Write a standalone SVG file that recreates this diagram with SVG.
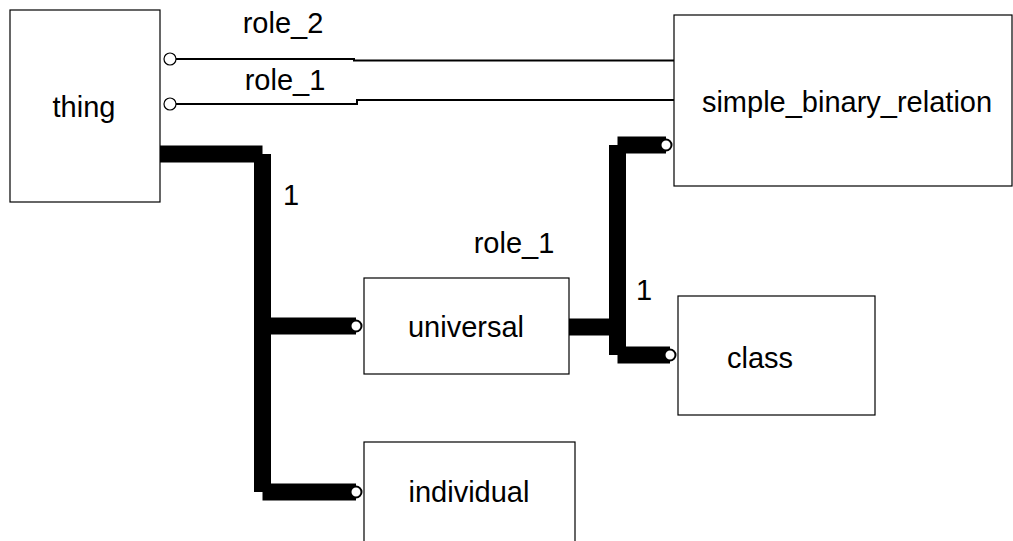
<svg xmlns="http://www.w3.org/2000/svg" width="1013" height="541" viewBox="0 0 1013 541">
  <style>
    .box { fill: #ffffff; stroke: #000000; stroke-width: 1.2; }
    .label { font-family: "Liberation Sans", Arial, sans-serif; font-size: 29px; fill: #000000; text-anchor: middle; }
    .thin { fill: none; stroke: #000000; stroke-width: 2; }
    .thick { fill: none; stroke: #000000; stroke-width: 17; stroke-linecap: butt; }
    .port { fill: #ffffff; stroke: #000000; stroke-width: 1.2; }
    .end { fill: #ffffff; stroke: #000000; stroke-width: 2; }
  </style>

  <!-- connectors -->
  <g id="connectors">
    <!-- role_2: thing to simple_binary_relation -->
    <path class="thin" d="M176,59 H354 V60.5 H674"/>
    <circle class="port" cx="170" cy="59" r="6"/>
    <text class="label" x="283" y="33">role_2</text>

    <!-- role_1: thing to simple_binary_relation -->
    <path class="thin" d="M176,104 H357 V100 H674"/>
    <circle class="port" cx="170" cy="104" r="6"/>
    <text class="label" x="285" y="90">role_1</text>

    <!-- thing specialisation tree -->
    <line class="thick" x1="160" y1="154" x2="262.5" y2="154"/>
    <line class="thick" x1="262.5" y1="154" x2="262.5" y2="492"/>
    <line class="thick" x1="262.5" y1="326" x2="356" y2="326"/>
    <line class="thick" x1="262.5" y1="492" x2="356" y2="492"/>
    <circle class="end" cx="356" cy="326" r="5.5"/>
    <circle class="end" cx="356" cy="492" r="5.5"/>
    <text class="label" x="291" y="205">1</text>

    <!-- universal role_1 tree -->
    <line class="thick" x1="569" y1="327" x2="617.5" y2="327"/>
    <line class="thick" x1="617.5" y1="145" x2="617.5" y2="355"/>
    <line class="thick" x1="617.5" y1="145" x2="666" y2="145"/>
    <line class="thick" x1="617.5" y1="355" x2="670" y2="355"/>
    <circle class="end" cx="666" cy="145" r="5.5"/>
    <circle class="end" cx="670" cy="355" r="5.5"/>
    <text class="label" x="514" y="253">role_1</text>
    <text class="label" x="644" y="300">1</text>
  </g>

  <!-- nodes -->
  <g id="thing">
    <rect class="box" x="10" y="10" width="150" height="192"/>
    <text class="label" x="84" y="117">thing</text>
  </g>
  <g id="simple_binary_relation">
    <rect class="box" x="674" y="15" width="338" height="171"/>
    <text class="label" x="847" y="112">simple_binary_relation</text>
  </g>
  <g id="universal">
    <rect class="box" x="364" y="278" width="205" height="96"/>
    <text class="label" x="466" y="337">universal</text>
  </g>
  <g id="class">
    <rect class="box" x="678" y="296" width="197" height="119"/>
    <text class="label" x="760" y="368">class</text>
  </g>
  <g id="individual">
    <rect class="box" x="364" y="442" width="211" height="120"/>
    <text class="label" x="469" y="502">individual</text>
  </g>
</svg>
